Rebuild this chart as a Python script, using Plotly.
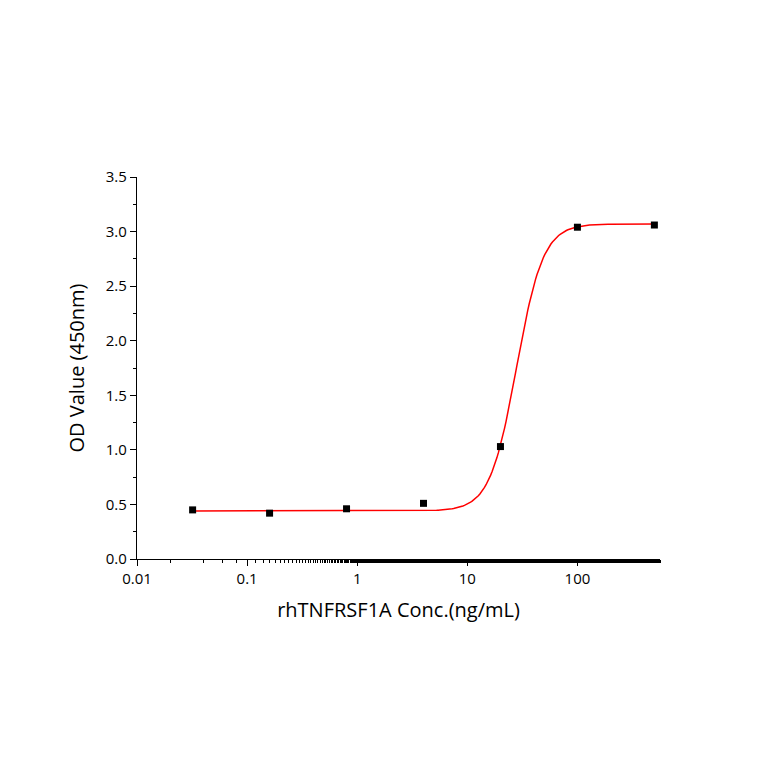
import numpy as np
import plotly.graph_objects as go

# measured points
conc = [0.032, 0.16, 0.8, 4, 20, 100, 500]
od = [0.45, 0.42, 0.46, 0.51, 1.03, 3.04, 3.06]

# 4PL fit parameters
bottom, top, ec50, hill = 0.44, 3.07, 28.0, 3.6

xfit = np.logspace(np.log10(0.032), np.log10(500), 300)
yfit = bottom + (top - bottom) / (1 + (ec50 / xfit) ** hill)

fig = go.Figure()
fig.add_trace(go.Scatter(x=xfit, y=yfit, mode="lines", line=dict(color="#ff0000", width=1.5), showlegend=False))
fig.add_trace(go.Scatter(x=conc, y=od, mode="markers", marker=dict(symbol="square", size=7, color="black"), showlegend=False))

fig.update_xaxes(type="log", range=[-2, 2.75], showline=True, linecolor="black", linewidth=1.2,
                 ticks="outside", ticklen=6, tickcolor="black",
                 tickvals=[0.01, 0.1, 1, 10, 100], ticktext=["0.01", "0.1", "1", "10", "100"],
                 minor=dict(ticks="outside", ticklen=3, tickcolor="black", showgrid=False),
                 showgrid=False, zeroline=False, tickfont=dict(size=15),
                 title=dict(text="rhTNFRSF1A Conc.(ng/mL)", font=dict(size=20)))
fig.update_yaxes(range=[0, 3.5], showline=True, linecolor="black", linewidth=1.2,
                 ticks="outside", ticklen=6, tickcolor="black", dtick=0.5, tickformat=".1f",
                 minor=dict(ticks="outside", ticklen=3, dtick=0.25, tickcolor="black", showgrid=False),
                 showgrid=False, zeroline=False, tickfont=dict(size=15),
                 title=dict(text="OD Value (450nm)", font=dict(size=20)))
fig.update_layout(width=764, height=764, plot_bgcolor="white", paper_bgcolor="white",
                  margin=dict(l=129, r=112, t=169, b=213),
                  font=dict(family="Open Sans", size=15, color="black"))
fig.write_html("out.html")
